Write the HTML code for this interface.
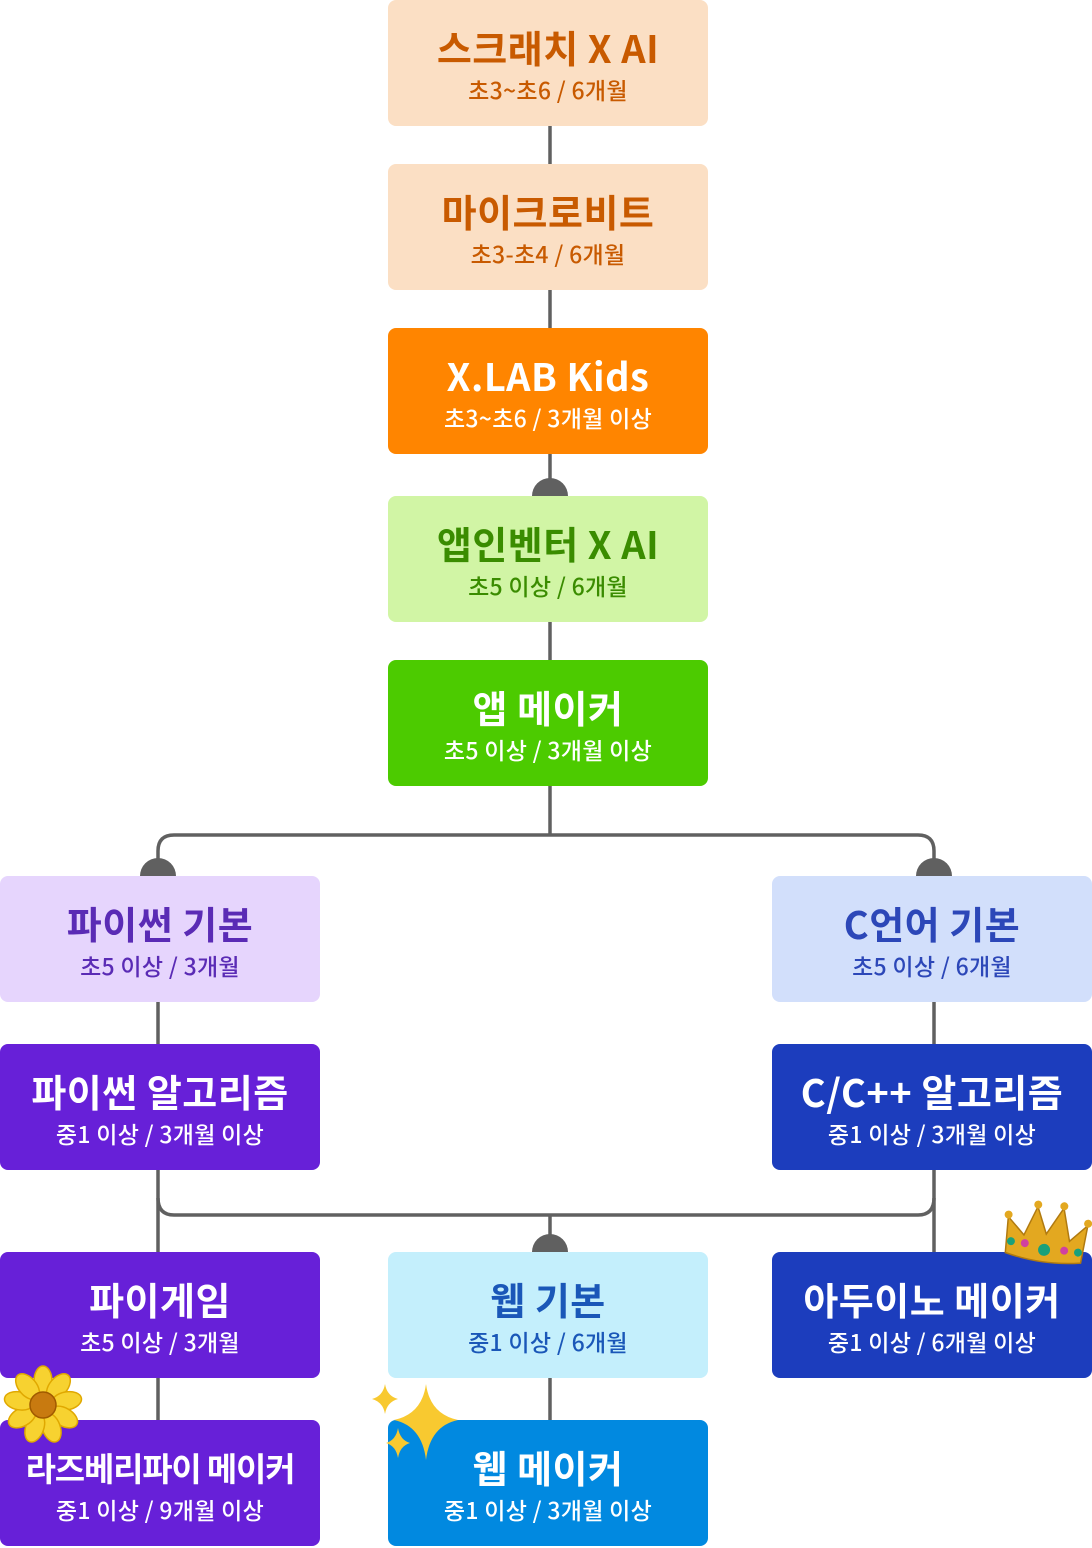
<!DOCTYPE html>
<html><head><meta charset="utf-8"><style>
body{margin:0;width:1092px;height:1548px;position:relative;background:#fff;overflow:hidden;font-family:"Noto Sans CJK KR","Liberation Sans",sans-serif}
.b{position:absolute;width:320px;height:126px;border-radius:8px;text-align:center}
.t{position:absolute;left:-20px;right:-20px;top:22px;font-size:38px;font-weight:700;line-height:50px;letter-spacing:0.5px;white-space:nowrap}
.s{position:absolute;left:-20px;right:-20px;top:73px;font-size:23px;line-height:33px;font-weight:500;letter-spacing:0.3px;white-space:nowrap}
svg{position:absolute;left:0;top:0}
</style></head><body>
<svg width="1092" height="1548">
<g stroke="#606060" stroke-width="3.5" fill="none">
<line x1="550" y1="126" x2="550" y2="164"/>
<line x1="550" y1="290" x2="550" y2="328"/>
<line x1="550" y1="454" x2="550" y2="496"/>
<line x1="550" y1="622" x2="550" y2="660"/>
<line x1="550" y1="786" x2="550" y2="835"/>
<path d="M158 876 V851 Q158 835 174 835 H918 Q934 835 934 851 V876"/>
<line x1="158" y1="1002" x2="158" y2="1044"/>
<line x1="934" y1="1002" x2="934" y2="1044"/>
<line x1="158" y1="1170" x2="158" y2="1252"/>
<line x1="934" y1="1170" x2="934" y2="1252"/>
<path d="M158 1198 Q158 1215 174 1215 H918 Q934 1215 934 1198"/>
<line x1="550" y1="1215" x2="550" y2="1252"/>
<line x1="158" y1="1378" x2="158" y2="1420"/>
<line x1="550" y1="1378" x2="550" y2="1420"/>
</g>
<g fill="#606060">
<path d="M532 496 A18 18 0 0 1 568 496Z"/>
<path d="M140 876 A18 18 0 0 1 176 876Z"/>
<path d="M916 876 A18 18 0 0 1 952 876Z"/>
<path d="M532 1252 A18 18 0 0 1 568 1252Z"/>
</g>
</svg>
<div class="b" style="left:388px;top:0;background:#fbdfc4;color:#c85a00"><div class="t">스크래치 X AI</div><div class="s">초3~초6 / 6개월</div></div>
<div class="b" style="left:388px;top:164px;background:#fbdfc4;color:#c85a00"><div class="t">마이크로비트</div><div class="s">초3-초4 / 6개월</div></div>
<div class="b" style="left:388px;top:328px;background:#ff8500;color:#fff"><div class="t">X.LAB Kids</div><div class="s">초3~초6 / 3개월 이상</div></div>
<div class="b" style="left:388px;top:496px;background:#d1f5a5;color:#3a8c00"><div class="t">앱인벤터 X AI</div><div class="s">초5 이상 / 6개월</div></div>
<div class="b" style="left:388px;top:660px;background:#4ccb00;color:#fff"><div class="t">앱 메이커</div><div class="s">초5 이상 / 3개월 이상</div></div>
<div class="b" style="left:0;top:876px;background:#e6d5fd;color:#5a2bb5"><div class="t">파이썬 기본</div><div class="s">초5 이상 / 3개월</div></div>
<div class="b" style="left:772px;top:876px;background:#d2dffb;color:#2c47b8"><div class="t">C언어 기본</div><div class="s">초5 이상 / 6개월</div></div>
<div class="b" style="left:0;top:1044px;background:#6720d8;color:#fff"><div class="t">파이썬 알고리즘</div><div class="s">중1 이상 / 3개월 이상</div></div>
<div class="b" style="left:772px;top:1044px;background:#1c3dbd;color:#fff"><div class="t">C/C++ 알고리즘</div><div class="s">중1 이상 / 3개월 이상</div></div>
<div class="b" style="left:0;top:1252px;background:#6720d8;color:#fff"><div class="t">파이게임</div><div class="s">초5 이상 / 3개월</div></div>
<div class="b" style="left:388px;top:1252px;background:#c4effc;color:#1a57b8"><div class="t">웹 기본</div><div class="s">중1 이상 / 6개월</div></div>
<div class="b" style="left:772px;top:1252px;background:#1c3dbd;color:#fff"><div class="t">아두이노 메이커</div><div class="s">중1 이상 / 6개월 이상</div></div>
<div class="b" style="left:0;top:1420px;background:#6720d8;color:#fff"><div class="t" style="font-size:33px;letter-spacing:-1.2px">라즈베리파이 메이커</div><div class="s">중1 이상 / 9개월 이상</div></div>
<div class="b" style="left:388px;top:1420px;background:#0189e0;color:#fff"><div class="t">웹 메이커</div><div class="s">중1 이상 / 3개월 이상</div></div>
<svg width="1092" height="1548" style="pointer-events:none">
<g transform="translate(43,1405)" fill="#f7d230" stroke="#e0a800" stroke-width="1.5">
<g id="p"><ellipse cx="0" cy="-24" rx="9" ry="15"/></g>
<use href="#p" transform="rotate(40)"/><use href="#p" transform="rotate(80)"/><use href="#p" transform="rotate(120)"/><use href="#p" transform="rotate(160)"/><use href="#p" transform="rotate(200)"/><use href="#p" transform="rotate(240)"/><use href="#p" transform="rotate(280)"/><use href="#p" transform="rotate(320)"/>
<circle r="13" fill="#c87a10" stroke="#a05a00"/>
</g>
<g fill="#f8c930">
<path d="M426 1384 Q430 1414 458 1420 Q430 1426 426 1460 Q422 1426 394 1420 Q422 1414 426 1384Z"/>
<path d="M385 1384 Q387 1396 398 1399 Q387 1402 385 1414 Q383 1402 372 1399 Q383 1396 385 1384Z"/>
<path d="M398 1428 Q400 1440 410 1443 Q400 1446 398 1458 Q396 1446 386 1443 Q396 1440 398 1428Z"/>
</g>
<g transform="translate(1046,1236) rotate(8)">
<path d="M-38 22 L-40 -14 L-22 2 L-12 -28 L0 -2 L14 -30 L24 2 L40 -16 L38 22 Q0 30 -38 22Z" fill="#e3a820" stroke="#b07a10" stroke-width="1.5"/>
<circle cx="-40" cy="-16" r="4" fill="#e3a820"/><circle cx="-12" cy="-30" r="4" fill="#e3a820"/><circle cx="14" cy="-32" r="4" fill="#e3a820"/><circle cx="40" cy="-18" r="4" fill="#e3a820"/>
<circle cx="0" cy="14" r="6" fill="#1aa07a"/><circle cx="-20" cy="10" r="4" fill="#d040a0"/><circle cx="20" cy="12" r="4" fill="#d040a0"/><circle cx="-34" cy="10" r="4" fill="#1aa07a"/><circle cx="34" cy="12" r="4" fill="#1aa07a"/>
</g>
</svg>
</body></html>
